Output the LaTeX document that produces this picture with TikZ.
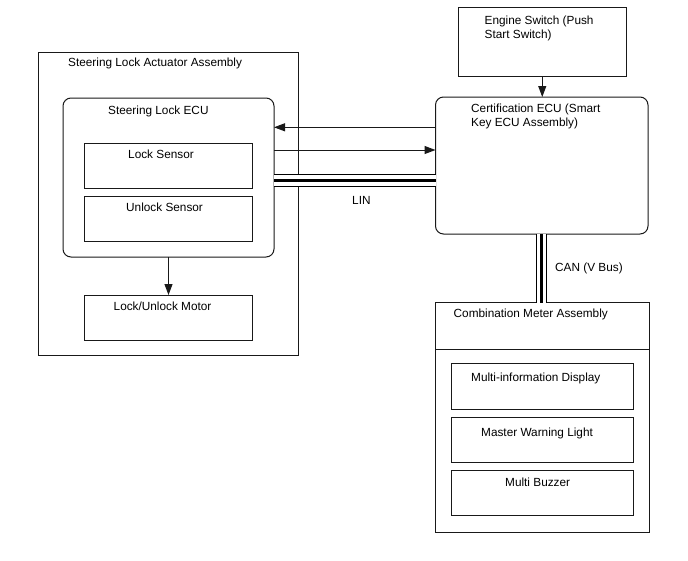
\documentclass[tikz,border=0pt]{standalone}
\usepackage{fontspec}
\setmainfont{Liberation Sans}
\usetikzlibrary{fit,arrows.meta}
\begin{document}
\begin{tikzpicture}[x=1pt,y=-1pt,
  box/.style={draw=black!90, line width=1pt, inner sep=0pt, outer sep=0pt},
  rbox/.style={box, rounded corners=8pt},
  txt/.style={anchor=base west, inner sep=0pt, font=\fontsize{11.8}{14}\selectfont, align=left},
  arr/.style={draw=black!90, line width=1pt, -{Triangle[length=11pt,width=8pt]}},
  busw/.style={line width=#1},
]
\useasboundingbox[fill=white] (0,0) rectangle (688,560);

% Steering lock side
\node[box, fit={(38,52) (298,355)}] (outer) {};
\node[txt] (outerT) at (68,66.5) {Steering Lock Actuator Assembly};
\node[rbox, fit={(63,98) (274,257)}] (ecu) {};
\node[txt] (ecuT) at (108,114) {Steering Lock ECU};
\node[box, fit={(84.5,143.5) (252.5,188)}] (lock) {};
\node[txt] (lockT) at (128,158.5) {Lock Sensor};
\node[box, fit={(84.5,196) (252.5,241.5)}] (unlock) {};
\node[txt] (unlockT) at (126,211.5) {Unlock Sensor};
\node[box, fit={(84.5,295) (252.5,340.5)}] (motor) {};
\node[txt] (motorT) at (113.5,310) {Lock/Unlock Motor};

% Engine switch and certification ECU
\node[box, fit={(458.5,7.5) (626,76)}] (eng) {};
\node[txt] (engT) at (484.5,38.5) {Engine Switch (Push\\Start Switch)};
\node[rbox, fit={(435.5,97) (648,234)}] (cert) {};
\node[txt] (certT) at (471,126) {Certification ECU (Smart\\Key ECU Assembly)};

% Combination meter
\node[box, fit={(435.5,302.5) (649,532)}] (meter) {};
\coordinate (mdivL) at (435.5,349);
\draw[draw=black!90, line width=1pt] (mdivL) -- (mdivL -| meter.east);
\node[txt] (meterT) at (453.5,317.5) {Combination Meter Assembly};
\node[box, fit={(451,363.5) (633.5,409)}] (mid) {};
\node[txt] (midT) at (471,381.5) {Multi-information Display};
\node[box, fit={(451,417) (633.5,462.5)}] (mwl) {};
\node[txt] (mwlT) at (481,436) {Master Warning Light};
\node[box, fit={(451,470) (633.5,515.5)}] (buz) {};
\node[txt] (buzT) at (505,486) {Multi Buzzer};

% Arrows
\draw[arr] (eng.south) -- (eng.south |- cert.north);
\draw[arr] (ecu.south -| motor.north) -- (motor.north);
\coordinate (y1) at (0,127.3);
\coordinate (y2) at (0,150);
\draw[arr] (cert.west |- y1) -- (ecu.east |- y1);
\draw[arr] (ecu.east |- y2) -- (cert.west |- y2);

% LIN bus
\coordinate (ylin) at (0,180.3);
\foreach \w/\c in {13.5/black, 10.5/white, 3.5/black}
  \draw[busw=\w pt, draw=\c] (ecu.east |- ylin) -- (cert.west |- ylin);
\node[txt] (linT) at (352,204.3) {LIN};

% CAN bus
\coordinate (xcan) at (541.7,0);
\foreach \w/\c in {11.5/black, 8.5/white, 3.5/black}
  \draw[busw=\w pt, draw=\c] (xcan |- cert.south) -- (xcan |- meter.north);
\node[txt] (canT) at (555,271.7) {CAN (V Bus)};
\end{tikzpicture}
\end{document}
